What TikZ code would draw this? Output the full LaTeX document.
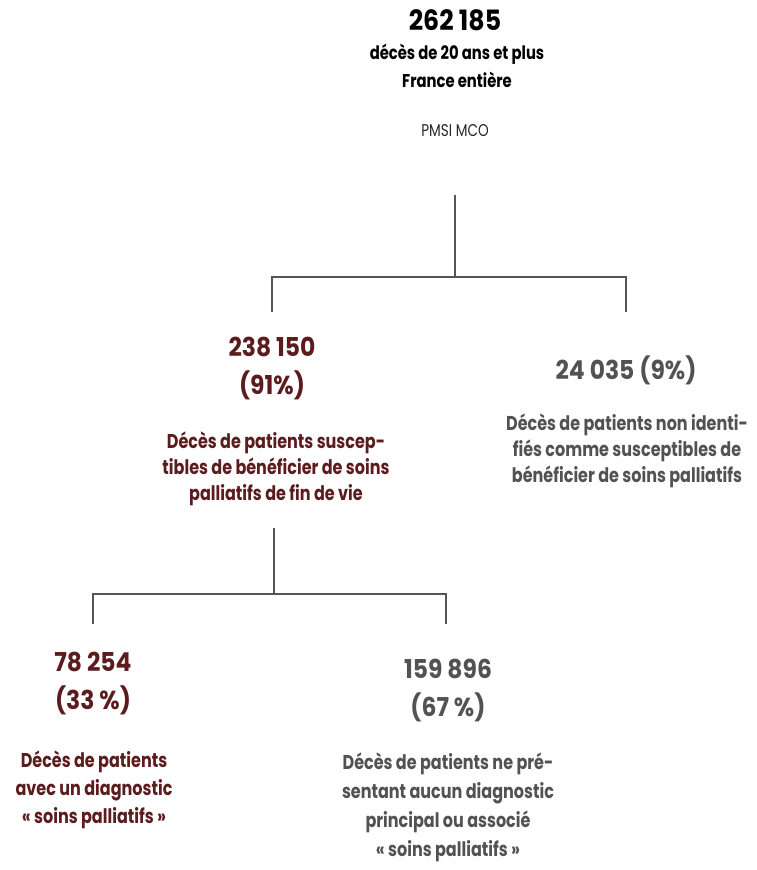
\documentclass[tikz,border=0pt]{standalone}
\usepackage{fontspec}
\setmainfont{Poppins}[FakeStretch=0.8]
\newfontfamily\chiffrefont{Poppins}[FakeStretch=0.9]
\usetikzlibrary{positioning}
\definecolor{bordeaux}{RGB}{92,28,30}
\definecolor{grisfonce}{RGB}{82,82,82}
\definecolor{trait}{RGB}{85,85,85}
\tikzset{
  chiffre/.style={font=\chiffrefont\bfseries\fontsize{26}{38}\selectfont, align=center, inner sep=0pt},
  texte/.style={font=\bfseries\fontsize{20}{26}\selectfont, align=center, inner sep=0pt},
  lien/.style={draw=trait, line width=1.8pt}
}

\begin{document}
\begin{tikzpicture}[x=1pt,y=-1pt]
        \useasboundingbox[fill=white] (0,0) rectangle (757,870);
        %-----------------------------------------------
        % Racine
        \node[chiffre, font=\chiffrefont\bfseries\fontsize{28}{34}\selectfont] (total) at (455,20) {262 185};
        \node[texte, font=\bfseries\fontsize{18.5}{28}\selectfont] (titre) at (457,66) {décès de 20 ans et plus\\France entière};
        \node[inner sep=0pt, text=black!85, font=\fontsize{17}{20}\selectfont] (source) at (455,131) {PMSI MCO};
        %-----------------------------------------------
        % Niveau 1
        \node[chiffre, text=bordeaux] (eligible) at (272,369) {238 150\\(91\%)};
        \node[texte, text=bordeaux] (eligibleTxt) at (276,469) {Décès de patients suscep-\\tibles de bénéficier de soins\\palliatifs de fin de vie};
        \node[chiffre, text=grisfonce] (nonElig) at (626,370) {24 035 (9\%)};
        \node[texte, text=grisfonce] (nonEligTxt) at (627,451) {Décès de patients non identi-\\fiés comme susceptibles de\\bénéficier de soins palliatifs};
        %-----------------------------------------------
        % Niveau 2
        \node[chiffre, text=bordeaux] (avecDiag) at (93,684) {78 254\\(33 \%)};
        \node[texte, text=bordeaux, font=\bfseries\fontsize{20}{28}\selectfont] (avecDiagTxt) at (94,790) {Décès de patients\\avec un diagnostic\\« soins palliatifs »};
        \node[chiffre, text=grisfonce] (sansDiag) at (448,690) {159 896\\(67 \%)};
        \node[texte, text=grisfonce, font=\bfseries\fontsize{20}{29}\selectfont] (sansDiagTxt) at (448,807) {Décès de patients ne pré-\\sentant aucun diagnostic\\principal ou associé\\« soins palliatifs »};
        %-----------------------------------------------
        % Liens
        \coordinate (haut1) at (455,195);
        \coordinate (fourche1) at (455,277);
        \coordinate (pied1g) at (272,312);
        \coordinate (pied1d) at (626,312);
        \draw[lien] (haut1) -- (fourche1);
        \draw[lien] (pied1g) |- (fourche1) -| (pied1d);

        \coordinate (haut2) at (274,528);
        \coordinate (fourche2) at (274,594);
        \coordinate (pied2g) at (93,624);
        \coordinate (pied2d) at (446,624);
        \draw[lien] (haut2) -- (fourche2);
        \draw[lien] (pied2g) |- (fourche2) -| (pied2d);
\end{tikzpicture}
\end{document}
